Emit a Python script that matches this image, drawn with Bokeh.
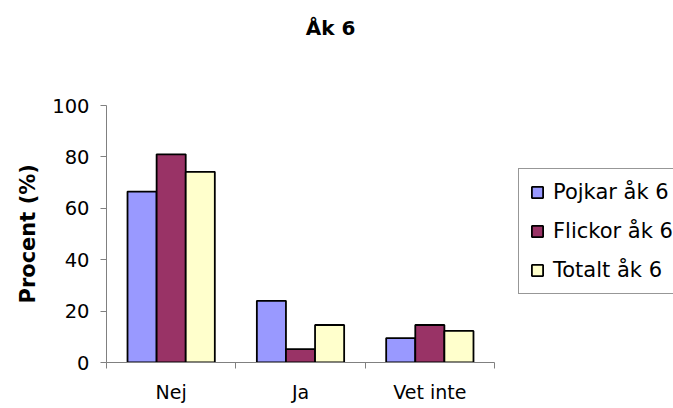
from bokeh.plotting import figure
from bokeh.models import (ColumnDataSource, FixedTicker, Legend, LegendItem,
                          Range1d, Label, Title)
from bokeh.embed import file_html
from bokeh.resources import INLINE

categories = ["Nej", "Ja", "Vet inte"]
series_names = ["Pojkar åk 6", "Flickor åk 6", "Totalt åk 6"]
pojkar = [66.5, 24.0, 9.5]
flickor = [81.0, 5.2, 14.6]
totalt = [74.2, 14.6, 12.3]
colors = ["#9999FF", "#993366", "#FFFFCC"]
y_ticks = [0, 20, 40, 60, 80, 100]
title_text = "Åk 6"
y_label = "Procent (%)"

FONT = "DejaVu Sans"

# layout (pixels)
W, H = 673, 408
LEFT, BOTTOM = 106, 46
AXIS_X_PX = 388            # length of the category axis
AXIS_Y_PX = 257            # length of the value axis (0..100)
TITLE_CX, TITLE_BASE = 330, 27

frame_w = W - LEFT
frame_h = H - BOTTOM
x_end = len(categories) * frame_w / AXIS_X_PX
y_max = max(y_ticks)
y_end = y_max * frame_h / AXIS_Y_PX

p = figure(width=W, height=H, output_backend="svg", toolbar_location=None,
           title=None,
           x_range=Range1d(0, x_end), y_range=Range1d(0, y_end),
           min_border_left=LEFT, min_border_right=0, min_border_top=0,
           min_border_bottom=BOTTOM)
p.outline_line_color = None
p.xgrid.visible = False
p.ygrid.visible = False
p.background_fill_color = "white"
p.border_fill_color = "white"

# chart title placed in the empty upper part of the frame
px_x = AXIS_X_PX / len(categories)
px_y = AXIS_Y_PX / y_max
title = Label(x=(TITLE_CX - LEFT) / px_x, y=(frame_h - TITLE_BASE) / px_y,
              text=title_text, text_align="center", text_baseline="alphabetic",
              text_font=FONT, text_font_size="20px", text_font_style="bold",
              text_color="black")
p.add_layout(title)

bar_w = 0.225
offsets = [-bar_w, 0.0, bar_w]
centers = [i + 0.5 for i in range(len(categories))]
items = []
for vals, name, col, off in zip([pojkar, flickor, totalt], series_names, colors, offsets):
    src = ColumnDataSource(dict(x=[c + off for c in centers], top=vals))
    r = p.vbar(x="x", top="top", bottom=0, width=bar_w, source=src,
               fill_color=col, line_color="black", line_width=1.8)
    items.append(LegendItem(label=name, renderers=[r]))

# x axis: labels at category centres, ticks at category boundaries
xa = p.xaxis[0]
xa.bounds = (0, len(categories))
xa.ticker = FixedTicker(ticks=centers, minor_ticks=list(range(len(categories) + 1)))
xa.major_label_overrides = {c: cat for c, cat in zip(centers, categories)}
xa.major_tick_out = 0
xa.major_tick_in = 0
xa.minor_tick_out = 6
xa.minor_tick_in = 0
xa.minor_tick_line_color = "#808080"
xa.axis_line_color = "#808080"
xa.major_label_text_font = FONT
xa.major_label_text_font_size = "19px"
xa.major_label_text_color = "black"
xa.major_label_standoff = 12

ya = p.yaxis[0]
ya.bounds = (0, y_max)
ya.ticker = FixedTicker(ticks=y_ticks)
ya.major_tick_out = 6
ya.major_tick_in = 0
ya.minor_tick_out = 0
ya.minor_tick_in = 0
ya.axis_line_color = "#808080"
ya.major_tick_line_color = "#808080"
ya.major_label_text_font = FONT
ya.major_label_text_font_size = "19.5px"
ya.major_label_text_color = "black"
ya.major_label_standoff = 11

# value-axis title, aligned with the 0..100 span of the axis
p.add_layout(Title(text=y_label, align="left", offset=H - BOTTOM - 303,
                   standoff=20, text_font=FONT, text_font_size="21px",
                   text_font_style="bold", text_color="black"), "left")

legend = Legend(items=items, location=(412, 68), orientation="vertical",
                glyph_width=14, glyph_height=14, label_height=20,
                label_width=150,
                spacing=15, padding=11, margin=0, label_standoff=9,
                label_text_font=FONT, label_text_font_size="21px",
                label_text_color="black", border_line_color="#303030",
                border_line_width=1, background_fill_alpha=1.0)
p.add_layout(legend, "center")

open("out.html", "w").write(file_html(p, INLINE))
